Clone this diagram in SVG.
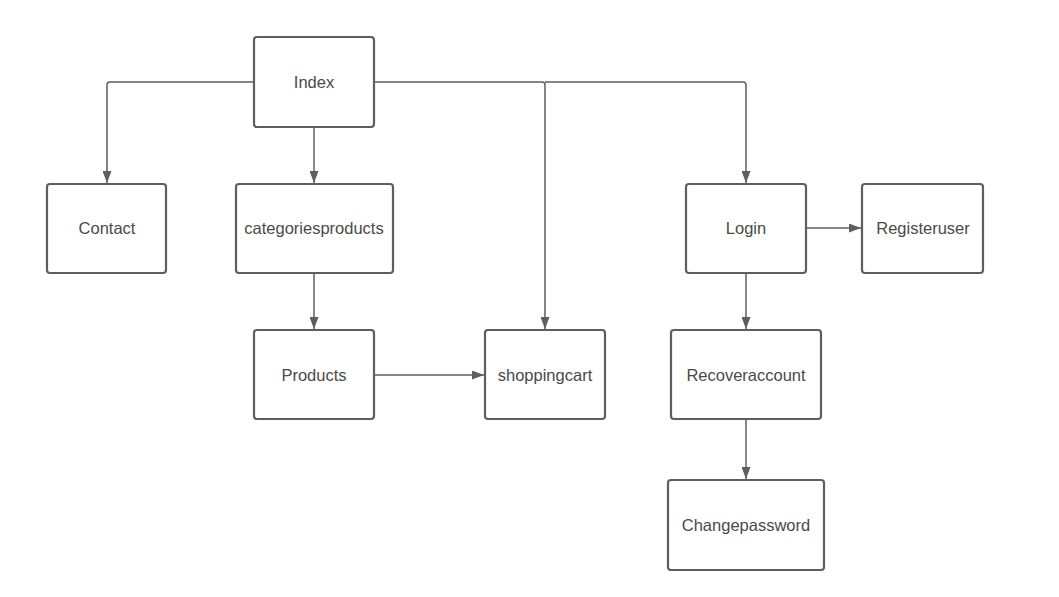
<svg xmlns="http://www.w3.org/2000/svg" width="1059" height="597" viewBox="0 0 1059 597">
<style>
.box{fill:#fff;stroke:#5e5e5e;stroke-width:2.2}
.lbl{font-family:"Liberation Sans",Arial,sans-serif;font-size:16.5px;fill:#4a4a4a;text-anchor:middle;dominant-baseline:central}
.ln{fill:none;stroke:#5e5e5e;stroke-width:1.5}
</style>
<defs>
<marker id="ah" viewBox="0 0 12 9" refX="12" refY="4.5" markerWidth="12" markerHeight="9" markerUnits="userSpaceOnUse" orient="auto">
<path d="M0,0 L12,4.5 L0,9 Z" fill="#5e5e5e"/>
</marker>
</defs>
<rect width="1059" height="597" fill="#fff"/>
<g id="connectors">
<path class="ln" d="M254,82 H110 Q107,82 107,85 V183" marker-end="url(#ah)"/>
<path class="ln" d="M314,127 V183" marker-end="url(#ah)"/>
<path class="ln" d="M374,82 H542 Q545,82 545,85 V329" marker-end="url(#ah)"/>
<path class="ln" d="M545,82 H743 Q746,82 746,85 V183" marker-end="url(#ah)"/>
<path class="ln" d="M314,273 V329" marker-end="url(#ah)"/>
<path class="ln" d="M374,375 H484" marker-end="url(#ah)"/>
<path class="ln" d="M806,228 H861" marker-end="url(#ah)"/>
<path class="ln" d="M746,273 V329" marker-end="url(#ah)"/>
<path class="ln" d="M746,419 V479" marker-end="url(#ah)"/>
</g>
<g id="index"><rect class="box" x="254" y="37" width="120" height="90" rx="3"/><text class="lbl" x="314" y="82">Index</text></g>
<g id="contact"><rect class="box" x="47" y="184" width="119" height="89" rx="3"/><text class="lbl" x="107" y="228">Contact</text></g>
<g id="categoriesproducts"><rect class="box" x="236" y="184" width="157" height="89" rx="3"/><text class="lbl" x="314" y="228">categoriesproducts</text></g>
<g id="products"><rect class="box" x="254" y="330" width="120" height="89" rx="3"/><text class="lbl" x="314" y="375">Products</text></g>
<g id="shoppingcart"><rect class="box" x="485" y="330" width="120" height="89" rx="3"/><text class="lbl" x="545" y="375">shoppingcart</text></g>
<g id="login"><rect class="box" x="686" y="184" width="120" height="89" rx="3"/><text class="lbl" x="746" y="228">Login</text></g>
<g id="registeruser"><rect class="box" x="862" y="184" width="121" height="89" rx="3"/><text class="lbl" x="923" y="228">Registeruser</text></g>
<g id="recoveraccount"><rect class="box" x="671" y="330" width="150" height="89" rx="3"/><text class="lbl" x="746" y="375">Recoveraccount</text></g>
<g id="changepassword"><rect class="box" x="668" y="480" width="156" height="90" rx="3"/><text class="lbl" x="746" y="525">Changepassword</text></g>
</svg>
